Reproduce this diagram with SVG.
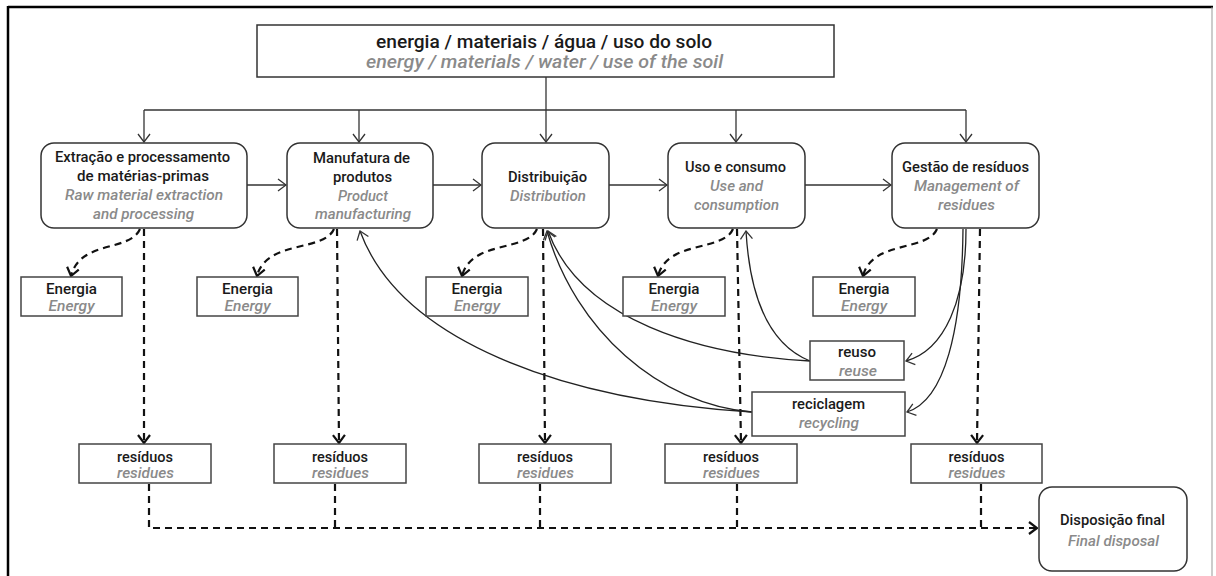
<svg xmlns="http://www.w3.org/2000/svg" width="1216" height="576" viewBox="0 0 1216 576">
<defs>
<style>
.pt{font-family:Roboto,"Liberation Sans",sans-serif;font-weight:500;font-size:15px;fill:#1a1a1a;text-anchor:middle}
.en{font-family:Roboto,"Liberation Sans",sans-serif;font-weight:500;font-style:italic;font-size:15px;fill:#8a8a8a;text-anchor:middle}
.sm{font-size:14px}
.big{font-size:18px}
.rbox{fill:#fff;stroke:#333;stroke-width:1.5}
.box{fill:#fff;stroke:#444;stroke-width:1.5}
.solid{fill:none;stroke:#333;stroke-width:1.3}
.curve{fill:none;stroke:#222;stroke-width:1.3}
.dash{fill:none;stroke:#111;stroke-width:2.2;stroke-dasharray:7 5}
</style>
<marker id="arr" viewBox="0 0 10 14" refX="9" refY="7" markerWidth="10" markerHeight="14" markerUnits="userSpaceOnUse" orient="auto">
<path d="M1,1 L9,7 L1,13" fill="none" stroke="#333" stroke-width="1.3"/>
</marker>
<marker id="darr" viewBox="0 0 10 14" refX="9" refY="7" markerWidth="10" markerHeight="14" markerUnits="userSpaceOnUse" orient="auto">
<path d="M1,1 L9,7 L1,13" fill="none" stroke="#111" stroke-width="2.2" stroke-dasharray="none"/>
</marker>
</defs>
<rect width="1216" height="576" fill="#fff"/>
<g id="frame">
<line x1="8" y1="7" x2="1213" y2="7" stroke="#000" stroke-width="2.5"/>
<line x1="8" y1="6" x2="8" y2="576" stroke="#000" stroke-width="2.5"/>
<line x1="1212" y1="7" x2="1212" y2="576" stroke="#999" stroke-width="1"/>
</g>
<g id="connectors">
<path class="solid" d="M546,77 V110"/>
<path class="solid" d="M144,110 H966"/>
<path class="solid" d="M144,110 V142" marker-end="url(#arr)"/>
<path class="solid" d="M359,110 V142" marker-end="url(#arr)"/>
<path class="solid" d="M546,110 V142" marker-end="url(#arr)"/>
<path class="solid" d="M736,110 V142" marker-end="url(#arr)"/>
<path class="solid" d="M966,110 V142" marker-end="url(#arr)"/>
<path class="solid" d="M247,185 H286" marker-end="url(#arr)"/>
<path class="solid" d="M433,185 H481" marker-end="url(#arr)"/>
<path class="solid" d="M609,185 H667" marker-end="url(#arr)"/>
<path class="solid" d="M805,185 H891" marker-end="url(#arr)"/>
<path class="dash" d="M140,229 C130,252 80,240 71,276" marker-end="url(#darr)"/>
<path class="dash" d="M334,229 C324,252 266,240 257,276" marker-end="url(#darr)"/>
<path class="dash" d="M537,229 C527,252 471,240 462,276" marker-end="url(#darr)"/>
<path class="dash" d="M733,229 C723,252 667,240 658,276" marker-end="url(#darr)"/>
<path class="dash" d="M937,229 C927,252 872,240 863,276" marker-end="url(#darr)"/>
<path class="dash" d="M144,229 V443" marker-end="url(#darr)"/>
<path class="dash" d="M337,229 L339,443" marker-end="url(#darr)"/>
<path class="dash" d="M543,229 L545,443" marker-end="url(#darr)"/>
<path class="dash" d="M737,229 L741,443" marker-end="url(#darr)"/>
<path class="dash" d="M980,229 L977,443" marker-end="url(#darr)"/>
<path class="dash" d="M149,484 V528 H1037" marker-end="url(#darr)"/>
<path class="dash" d="M335,484 V528"/>
<path class="dash" d="M540,484 V528"/>
<path class="dash" d="M737,484 V528"/>
<path class="dash" d="M981,484 V528"/>
<path class="curve" d="M810,361 C700,355 580,320 548,231" marker-end="url(#arr)"/>
<path class="curve" d="M752,412 C660,405 575,330 547,231" marker-end="url(#arr)"/>
<path class="curve" d="M752,412 C560,400 400,340 360,231" marker-end="url(#arr)"/>
<path class="curve" d="M810,361 C770,345 750,300 746,231" marker-end="url(#arr)"/>
<path class="curve" d="M966,229 C966,300 945,350 906,361" marker-end="url(#arr)"/>
<path class="curve" d="M963,229 C962,330 945,400 907,412" marker-end="url(#arr)"/>
</g>
<g id="inputs">
<rect x="257" y="25" width="577" height="52" fill="#fff" stroke="#333" stroke-width="1.5"/>
<text class="pt big" x="544" y="48" textLength="336" lengthAdjust="spacingAndGlyphs">energia / materiais / água / uso do solo</text>
<text class="en big" x="544.5" y="68" textLength="357" lengthAdjust="spacingAndGlyphs">energy / materials / water / use of the soil</text>
</g>
<g id="extracao">
<rect class="rbox" x="41" y="143" width="206" height="85" rx="13"/>
<text class="pt" x="142.5" y="162" textLength="175" lengthAdjust="spacingAndGlyphs">Extração e processamento</text>
<text class="pt" x="143" y="181" textLength="132" lengthAdjust="spacingAndGlyphs">de matérias-primas</text>
<text class="en" x="144" y="200" textLength="158" lengthAdjust="spacingAndGlyphs">Raw material extraction</text>
<text class="en" x="143.5" y="219" textLength="101" lengthAdjust="spacingAndGlyphs">and processing</text>
</g>
<g id="manufatura">
<rect class="rbox" x="287" y="143" width="146" height="85" rx="13"/>
<text class="pt" x="361.5" y="163" textLength="97" lengthAdjust="spacingAndGlyphs">Manufatura de</text>
<text class="pt" x="362.5" y="182" textLength="59" lengthAdjust="spacingAndGlyphs">produtos</text>
<text class="en" x="363" y="201" textLength="50" lengthAdjust="spacingAndGlyphs">Product</text>
<text class="en" x="363" y="219" textLength="96" lengthAdjust="spacingAndGlyphs">manufacturing</text>
</g>
<g id="distribuicao">
<rect class="rbox" x="482" y="143" width="127" height="85" rx="13"/>
<text class="pt" x="547.5" y="182" textLength="79" lengthAdjust="spacingAndGlyphs">Distribuição</text>
<text class="en" x="548" y="201" textLength="76" lengthAdjust="spacingAndGlyphs">Distribution</text>
</g>
<g id="uso">
<rect class="rbox" x="668" y="143" width="137" height="85" rx="13"/>
<text class="pt" x="735.5" y="172" textLength="101" lengthAdjust="spacingAndGlyphs">Uso e consumo</text>
<text class="en" x="736.5" y="191" textLength="53" lengthAdjust="spacingAndGlyphs">Use and</text>
<text class="en" x="736.5" y="210" textLength="85" lengthAdjust="spacingAndGlyphs">consumption</text>
</g>
<g id="gestao">
<rect class="rbox" x="892" y="143" width="147" height="85" rx="13"/>
<text class="pt" x="965.5" y="172" textLength="127" lengthAdjust="spacingAndGlyphs">Gestão de resíduos</text>
<text class="en" x="966.5" y="191" textLength="105" lengthAdjust="spacingAndGlyphs">Management of</text>
<text class="en" x="966.5" y="210" textLength="57" lengthAdjust="spacingAndGlyphs">residues</text>
</g>
<g id="energia1"><rect class="box" x="21" y="277" width="101" height="39"/>
<text class="pt" x="71.5" y="294" textLength="51" lengthAdjust="spacingAndGlyphs">Energia</text>
<text class="en sm" x="71.5" y="311" textLength="46" lengthAdjust="spacingAndGlyphs">Energy</text></g>
<g id="energia2"><rect class="box" x="197" y="277" width="101" height="39"/>
<text class="pt" x="247.5" y="294" textLength="51" lengthAdjust="spacingAndGlyphs">Energia</text>
<text class="en sm" x="247.5" y="311" textLength="46" lengthAdjust="spacingAndGlyphs">Energy</text></g>
<g id="energia3"><rect class="box" x="426" y="277" width="102" height="39"/>
<text class="pt" x="477" y="294" textLength="51" lengthAdjust="spacingAndGlyphs">Energia</text>
<text class="en sm" x="477" y="311" textLength="46" lengthAdjust="spacingAndGlyphs">Energy</text></g>
<g id="energia4"><rect class="box" x="623" y="277" width="102" height="39"/>
<text class="pt" x="674" y="294" textLength="51" lengthAdjust="spacingAndGlyphs">Energia</text>
<text class="en sm" x="674" y="311" textLength="46" lengthAdjust="spacingAndGlyphs">Energy</text></g>
<g id="energia5"><rect class="box" x="813" y="277" width="102" height="39"/>
<text class="pt" x="864" y="294" textLength="51" lengthAdjust="spacingAndGlyphs">Energia</text>
<text class="en sm" x="864" y="311" textLength="46" lengthAdjust="spacingAndGlyphs">Energy</text></g>
<g id="reuso"><rect class="box" x="810" y="341" width="94" height="39"/>
<text class="pt" x="857" y="357" textLength="38" lengthAdjust="spacingAndGlyphs">reuso</text>
<text class="en" x="858" y="376" textLength="38" lengthAdjust="spacingAndGlyphs">reuse</text></g>
<g id="reciclagem"><rect class="box" x="752" y="392" width="153" height="44"/>
<text class="pt" x="828.5" y="409" textLength="73" lengthAdjust="spacingAndGlyphs">reciclagem</text>
<text class="en" x="829" y="428" textLength="60" lengthAdjust="spacingAndGlyphs">recycling</text></g>
<g id="residuos1"><rect class="box" x="79" y="444" width="132" height="39"/>
<text class="pt sm" x="145" y="462" textLength="56" lengthAdjust="spacingAndGlyphs">resíduos</text>
<text class="en sm" x="145.5" y="478" textLength="57" lengthAdjust="spacingAndGlyphs">residues</text></g>
<g id="residuos2"><rect class="box" x="274" y="444" width="132" height="39"/>
<text class="pt sm" x="340" y="462" textLength="56" lengthAdjust="spacingAndGlyphs">resíduos</text>
<text class="en sm" x="340.5" y="478" textLength="57" lengthAdjust="spacingAndGlyphs">residues</text></g>
<g id="residuos3"><rect class="box" x="479" y="444" width="132" height="39"/>
<text class="pt sm" x="545" y="462" textLength="56" lengthAdjust="spacingAndGlyphs">resíduos</text>
<text class="en sm" x="545.5" y="478" textLength="57" lengthAdjust="spacingAndGlyphs">residues</text></g>
<g id="residuos4"><rect class="box" x="665" y="444" width="132" height="39"/>
<text class="pt sm" x="731" y="462" textLength="56" lengthAdjust="spacingAndGlyphs">resíduos</text>
<text class="en sm" x="731.5" y="478" textLength="57" lengthAdjust="spacingAndGlyphs">residues</text></g>
<g id="residuos5"><rect class="box" x="911" y="444" width="131" height="39"/>
<text class="pt sm" x="976.5" y="462" textLength="56" lengthAdjust="spacingAndGlyphs">resíduos</text>
<text class="en sm" x="977" y="478" textLength="57" lengthAdjust="spacingAndGlyphs">residues</text></g>
<g id="disposicao"><rect class="rbox" x="1039" y="487" width="148" height="84" rx="13"/>
<text class="pt" x="1112.5" y="525" textLength="105" lengthAdjust="spacingAndGlyphs">Disposição final</text>
<text class="en" x="1113.5" y="546" textLength="91" lengthAdjust="spacingAndGlyphs">Final disposal</text></g>
</svg>
